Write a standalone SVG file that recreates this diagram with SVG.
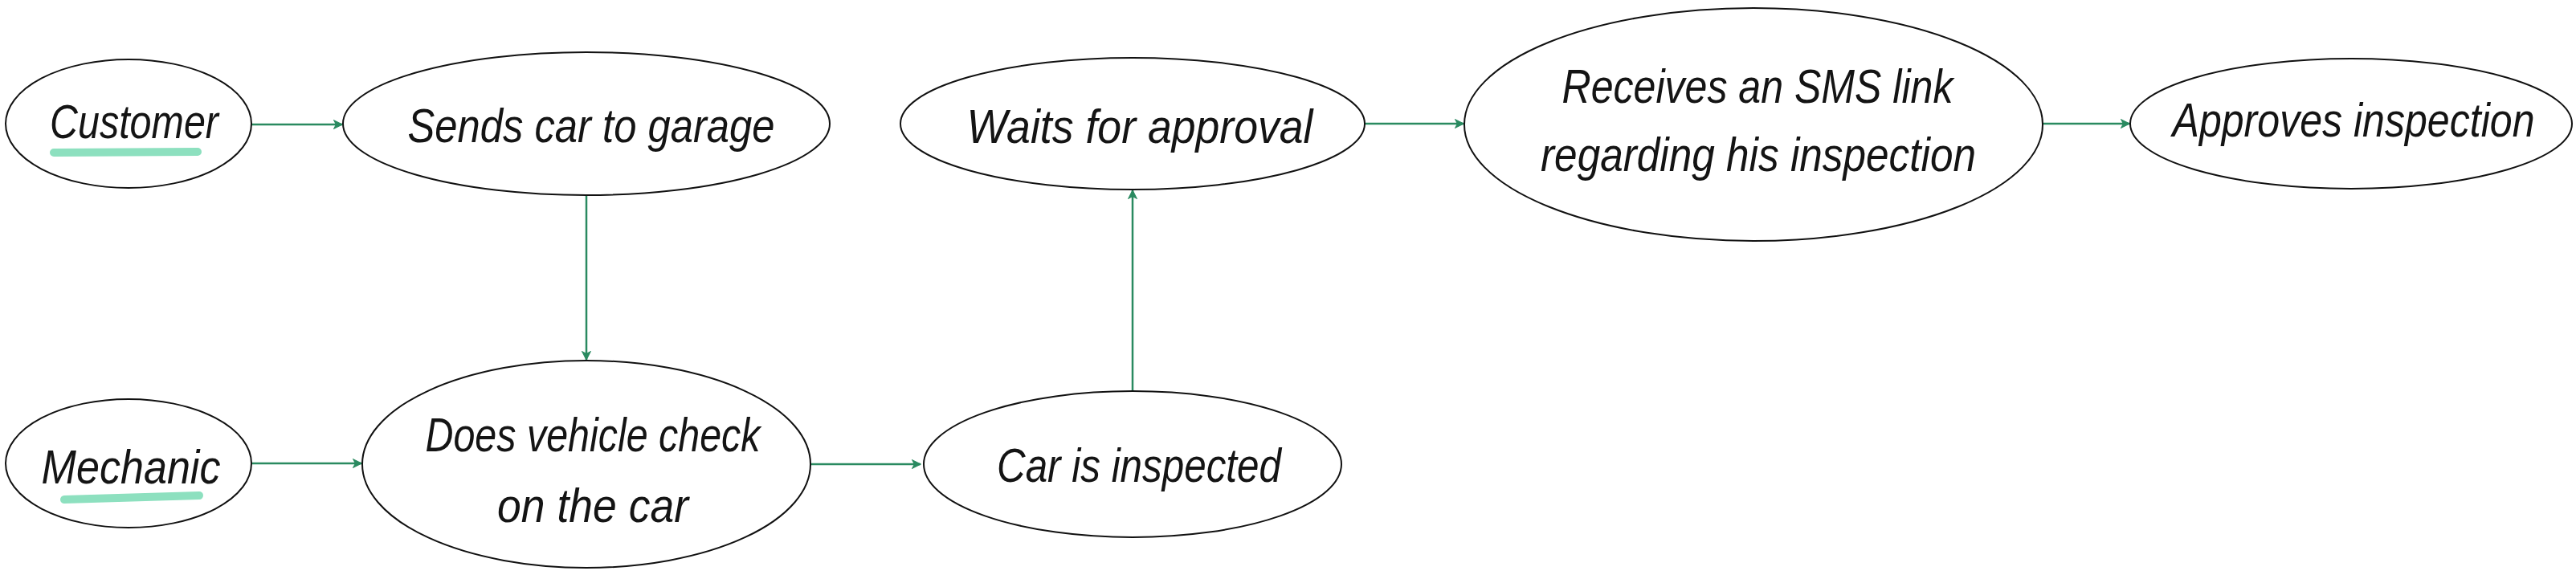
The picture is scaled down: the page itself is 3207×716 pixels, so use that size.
<svg xmlns="http://www.w3.org/2000/svg" width="3207" height="716" viewBox="0 0 3207 716">
  <defs>
    <style>
      .node ellipse { fill: #ffffff; stroke: #111111; stroke-width: 2; }
      .label { font-family: "Liberation Sans", "DejaVu Sans", sans-serif; font-style: italic; font-size: 60px; fill: #141414; text-anchor: middle; }
      .edge { stroke: #2a8a60; stroke-width: 2.5; fill: none; marker-end: url(#arrow); }
      .hl { stroke: #8de0bf; stroke-width: 10; stroke-linecap: round; fill: none; }
    </style>
    <marker id="arrow" viewBox="0 0 10 10" refX="9" refY="5" markerWidth="5" markerHeight="5" orient="auto" markerUnits="strokeWidth">
      <path d="M1,1 L9,5 L1,9 L3,5 Z" fill="#2a8a60" stroke="#2a8a60" stroke-width="1" stroke-linejoin="miter"/>
    </marker>
  </defs>
  <rect width="3207" height="716" fill="#ffffff"/>

  <g id="connectors">
    <line class="edge" x1="313" y1="155" x2="426" y2="155"/>
    <line class="edge" x1="730" y1="243" x2="730" y2="448"/>
    <line class="edge" x1="313" y1="577" x2="450" y2="577"/>
    <line class="edge" x1="1009" y1="578" x2="1146" y2="578"/>
    <line class="edge" x1="1410" y1="487" x2="1410" y2="237"/>
    <line class="edge" x1="1699" y1="154" x2="1822" y2="154"/>
    <line class="edge" x1="2543" y1="154" x2="2651" y2="154"/>
  </g>

  <g id="customer" class="node">
    <ellipse cx="160" cy="154" rx="153" ry="80"/>
    <line class="hl" x1="67" y1="190" x2="246" y2="189"/>
    <text class="label" x="167" y="172" textLength="210" lengthAdjust="spacingAndGlyphs">Customer</text>
  </g>

  <g id="sends-car" class="node">
    <ellipse cx="730" cy="154" rx="303" ry="89"/>
    <text class="label" x="736" y="177" textLength="457" lengthAdjust="spacingAndGlyphs">Sends car to garage</text>
  </g>

  <g id="mechanic" class="node">
    <ellipse cx="160" cy="577" rx="153" ry="80"/>
    <line class="hl" x1="80" y1="622" x2="248" y2="617"/>
    <text class="label" x="163" y="602" textLength="223" lengthAdjust="spacingAndGlyphs">Mechanic</text>
  </g>

  <g id="vehicle-check" class="node">
    <ellipse cx="730" cy="578" rx="279" ry="129"/>
    <text class="label" x="738" y="562" textLength="417" lengthAdjust="spacingAndGlyphs">Does vehicle check</text>
    <text class="label" x="738" y="650" textLength="238" lengthAdjust="spacingAndGlyphs">on the car</text>
  </g>

  <g id="car-inspected" class="node">
    <ellipse cx="1410" cy="578" rx="260" ry="91"/>
    <text class="label" x="1418" y="600" textLength="354" lengthAdjust="spacingAndGlyphs">Car is inspected</text>
  </g>

  <g id="waits-approval" class="node">
    <ellipse cx="1410" cy="154" rx="289" ry="82"/>
    <text class="label" x="1419" y="178" textLength="431" lengthAdjust="spacingAndGlyphs">Waits for approval</text>
  </g>

  <g id="receives-sms" class="node">
    <ellipse cx="2183" cy="155" rx="360" ry="145"/>
    <text class="label" x="2188" y="128" textLength="487" lengthAdjust="spacingAndGlyphs">Receives an SMS link</text>
    <text class="label" x="2189" y="213" textLength="542" lengthAdjust="spacingAndGlyphs">regarding his inspection</text>
  </g>

  <g id="approves" class="node">
    <ellipse cx="2927" cy="154" rx="275" ry="81"/>
    <text class="label" x="2930" y="170" font-size="56" textLength="451" lengthAdjust="spacingAndGlyphs">Approves inspection</text>
  </g>
</svg>
